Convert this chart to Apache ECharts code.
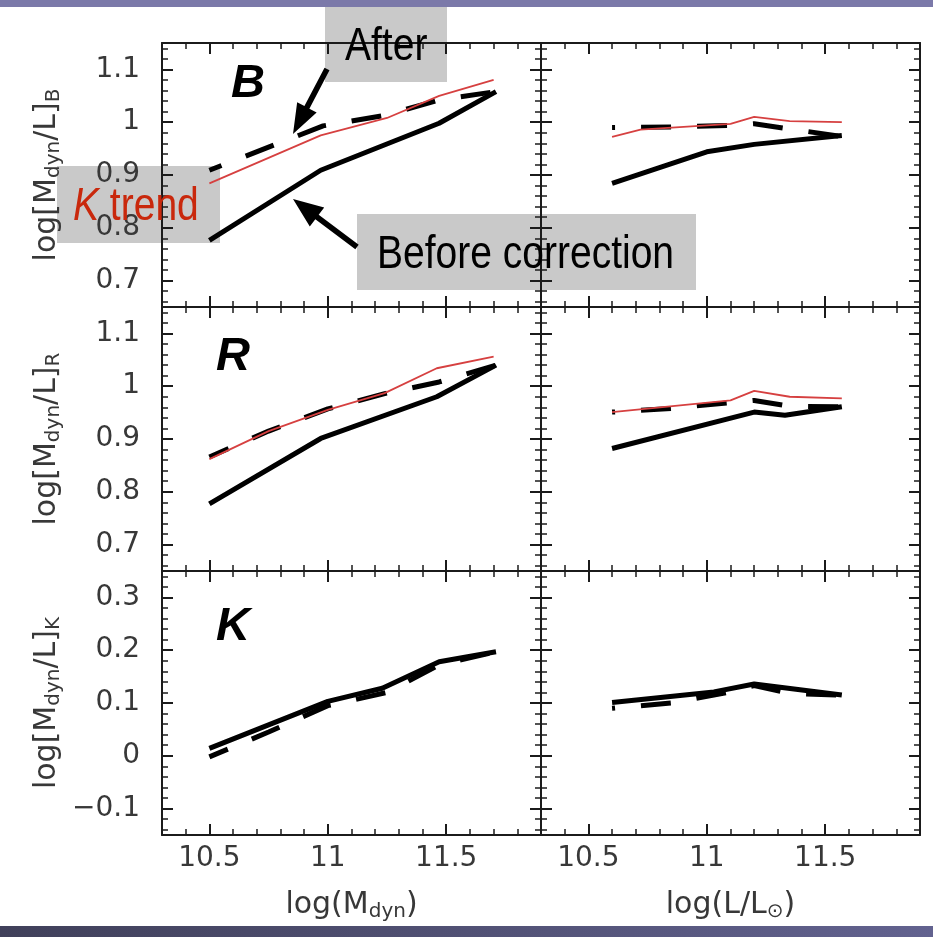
<!DOCTYPE html>
<html>
<head>
<meta charset="utf-8">
<script src="https://cdn.jsdelivr.net/npm/echarts@6/dist/echarts.min.js"></script>
<style>
  html, body { margin: 0; padding: 0; background: #ffffff; }
  #chart { width: 933px; height: 937px; }
</style>
</head>
<body>
<div id="chart"></div>
<script>
// Mean log(M_dyn/L) in bins of dynamical mass (left) and luminosity (right),
// for the B, R and K bands: before correction (solid), after (dashed), K trend (thin red).

const xRange = [10.3, 11.9];
const optRange = [0.65, 1.15];
const kRange = [-0.15, 0.35];

// B band
const bMassBefore = [[10.5, 0.776], [10.97, 0.909], [11.47, 0.998], [11.71, 1.058]];
const bMassAfter  = [[10.5, 0.909], [10.98, 0.993], [11.24, 1.013], [11.47, 1.042], [11.71, 1.058]];
const bMassTrend  = [[10.5, 0.884], [10.97, 0.975], [11.25, 1.008], [11.47, 1.05], [11.7, 1.08]];
const bLumBefore  = [[10.6, 0.884], [11.0, 0.944], [11.2, 0.958], [11.57, 0.975]];
const bLumAfter   = [[10.6, 0.99], [10.85, 0.991], [11.1, 0.994], [11.2, 0.997], [11.57, 0.973]];
const bLumTrend   = [[10.6, 0.972], [10.72, 0.986], [11.1, 0.997], [11.2, 1.01], [11.35, 1.002], [11.57, 1.0]];

// R band
const rMassBefore = [[10.5, 0.777], [10.97, 0.901], [11.46, 0.98], [11.71, 1.04]];
const rMassAfter  = [[10.5, 0.866], [10.75, 0.915], [11.0, 0.957], [11.24, 0.986], [11.47, 1.008], [11.71, 1.04]];
const rMassTrend  = [[10.5, 0.862], [10.75, 0.915], [11.0, 0.955], [11.24, 0.987], [11.46, 1.034], [11.7, 1.056]];
const rLumBefore  = [[10.6, 0.882], [11.2, 0.951], [11.33, 0.945], [11.57, 0.961]];
const rLumAfter   = [[10.6, 0.951], [10.85, 0.958], [11.1, 0.969], [11.2, 0.973], [11.35, 0.962], [11.57, 0.961]];
const rLumTrend   = [[10.6, 0.951], [11.1, 0.973], [11.2, 0.991], [11.35, 0.98], [11.57, 0.977]];

// K band
const kMassBefore = [[10.5, 0.014], [11.0, 0.103], [11.23, 0.128], [11.47, 0.178], [11.71, 0.197]];
const kMassAfter  = [[10.5, -0.002], [10.75, 0.045], [11.0, 0.095], [11.25, 0.12], [11.47, 0.172], [11.71, 0.197]];
const kLumBefore  = [[10.6, 0.101], [11.03, 0.121], [11.2, 0.136], [11.57, 0.115]];
const kLumAfter   = [[10.6, 0.09], [10.85, 0.1], [11.1, 0.121], [11.2, 0.133], [11.35, 0.118], [11.57, 0.115]];

const FONT = 'DejaVu Sans';
const SANS = "'Liberation Sans', Arial, sans-serif";
const INK = '#1b1b1b';
const LABEL = '#383838';

const GRID_W = 379, GRID_H = 264;
const grids = [
  { left: 162, top: 43 },  { left: 541, top: 43 },
  { left: 162, top: 307 }, { left: 541, top: 307 },
  { left: 162, top: 571 }, { left: 541, top: 571 }
];

const nameRich = {
  a: { fontFamily: FONT, fontSize: 30, lineHeight: 34, color: LABEL, verticalAlign: 'middle' },
  s: { fontFamily: FONT, fontSize: 20, lineHeight: 14, color: LABEL, verticalAlign: 'bottom' }
};

function tickText(v) {
  const r = Math.round(v * 100) / 100;
  return r < 0 ? '\u2212' + String(-r) : String(r);
}

function xAxisFor(gi, position, showLabels, name) {
  return {
    type: 'value', gridIndex: gi, position: position,
    min: xRange[0], max: xRange[1],
    splitNumber: 3, minInterval: 0.5, maxInterval: 0.5,
    axisLine: { show: true, onZero: false, lineStyle: { color: INK, width: 2 } },
    axisTick: { show: true, inside: true, length: 11, lineStyle: { color: INK, width: 2 } },
    minorTick: { show: true, splitNumber: 5, length: 6, lineStyle: { color: INK, width: 1.5 } },
    splitLine: { show: false }, minorSplitLine: { show: false },
    axisLabel: {
      show: showLabels, showMinLabel: false, showMaxLabel: false, margin: 10,
      fontFamily: FONT, fontSize: 28, color: LABEL, formatter: tickText
    },
    name: name || '', nameLocation: 'middle', nameGap: 53,
    nameTextStyle: { fontFamily: FONT, fontSize: 30, color: LABEL, rich: nameRich }
  };
}

function yAxisFor(gi, position, range, showLabels, name) {
  return {
    type: 'value', gridIndex: gi, position: position,
    min: range[0], max: range[1],
    splitNumber: 5, minInterval: 0.1, maxInterval: 0.1,
    axisLine: { show: true, onZero: false, lineStyle: { color: INK, width: 2 } },
    axisTick: { show: true, inside: true, length: 11, lineStyle: { color: INK, width: 2 } },
    minorTick: { show: true, splitNumber: 5, length: 6, lineStyle: { color: INK, width: 1.5 } },
    splitLine: { show: false }, minorSplitLine: { show: false },
    axisLabel: {
      show: showLabels, showMinLabel: false, showMaxLabel: false, margin: 22,
      fontFamily: FONT, fontSize: 28, color: LABEL, formatter: tickText
    },
    name: name || '', nameLocation: 'middle', nameRotate: 90, nameGap: 98,
    nameTextStyle: { fontFamily: FONT, fontSize: 30, color: LABEL, rich: nameRich }
  };
}

const panels = [
  { range: optRange, yName: '{a|log[M}{s|dyn}{a|/L]}{s|B}', before: bMassBefore, after: bMassAfter, trend: bMassTrend, offset: 17 },
  { range: optRange, before: bLumBefore, after: bLumAfter, trend: bLumTrend, offset: 27 },
  { range: optRange, yName: '{a|log[M}{s|dyn}{a|/L]}{s|R}', before: rMassBefore, after: rMassAfter, trend: rMassTrend, offset: 9 },
  { range: optRange, before: rLumBefore, after: rLumAfter, trend: rLumTrend, offset: 27 },
  { range: kRange, yName: '{a|log[M}{s|dyn}{a|/L]}{s|K}', before: kMassBefore, after: kMassAfter, offset: 10,
    xName: '{a|log(M}{s|dyn}{a|)}' },
  { range: kRange, before: kLumBefore, after: kLumAfter, offset: 27,
    xName: '{a|log(L/L}{s|\u2299}{a|)}' }
];

const xAxes = [], yAxes = [], series = [];
panels.forEach((p, gi) => {
  const bottomRow = gi >= 4;
  const leftCol = gi % 2 === 0;
  xAxes.push(xAxisFor(gi, 'bottom', bottomRow, p.xName));
  xAxes.push(xAxisFor(gi, 'top', false));
  yAxes.push(yAxisFor(gi, 'left', p.range, leftCol, p.yName));
  yAxes.push(yAxisFor(gi, 'right', p.range, false));
  const ax = { xAxisIndex: 2 * gi, yAxisIndex: 2 * gi };
  series.push(Object.assign({
    name: 'Before correction', type: 'line', data: p.before, symbol: 'none', z: 3,
    lineStyle: { color: '#000000', width: 5 }
  }, ax));
  series.push(Object.assign({
    name: 'After', type: 'line', data: p.after, symbol: 'none', z: 4,
    lineStyle: { color: '#000000', width: 5, type: [30, 26], dashOffset: p.offset }
  }, ax));
  if (p.trend) {
    series.push(Object.assign({
      name: 'K trend', type: 'line', data: p.trend, symbol: 'none', z: 5,
      lineStyle: { color: '#d64040', width: 1.8 }
    }, ax));
  }
});

// Filled arrow outline from tail to tip
function arrow(tail, tip, headLen, headHalf, shaftHalf) {
  const dx = tip[0] - tail[0], dy = tip[1] - tail[1];
  const len = Math.hypot(dx, dy);
  const ux = dx / len, uy = dy / len, nx = -uy, ny = ux;
  const bx = tip[0] - ux * headLen, by = tip[1] - uy * headLen;
  return [
    [tail[0] + nx * shaftHalf, tail[1] + ny * shaftHalf],
    [bx + nx * shaftHalf, by + ny * shaftHalf],
    [bx + nx * headHalf, by + ny * headHalf],
    [tip[0], tip[1]],
    [bx - nx * headHalf, by - ny * headHalf],
    [bx - nx * shaftHalf, by - ny * shaftHalf],
    [tail[0] - nx * shaftHalf, tail[1] - ny * shaftHalf]
  ];
}

// Text placed at (x, y), optionally squeezed horizontally into a condensed look
function label(text, x, y, font, fill, squeeze, rich) {
  return {
    type: 'text', z: 50, x: x, y: y, scaleX: squeeze || 1, scaleY: 1,
    style: {
      text: text, x: 0, y: 0, font: font, fill: fill, rich: rich,
      align: 'left', textAlign: 'left', verticalAlign: 'middle', textVerticalAlign: 'middle'
    }
  };
}

const BOX = '#c9c9c9';
const NARROW_SCALE = 0.83;
const graphic = [
  { type: 'rect', z: -5, shape: { x: 0, y: 0, width: 933, height: 7 }, style: { fill: '#7b79a9' } },
  { type: 'rect', z: -5, shape: { x: 0, y: 926, width: 933, height: 11 },
    style: { fill: new echarts.graphic.LinearGradient(0, 0, 1, 0, [
      { offset: 0, color: '#40405a' }, { offset: 1, color: '#62628f' }]) } },
  { type: 'rect', z: -1, shape: { x: 325, y: 7, width: 122, height: 75 }, style: { fill: BOX } },
  { type: 'rect', z: -1, shape: { x: 357, y: 214, width: 339, height: 76 }, style: { fill: BOX } },
  { type: 'rect', z: -1, shape: { x: 57, y: 166, width: 163, height: 77 }, style: { fill: BOX } },
  label('After', 345, 47, '47px ' + SANS, '#000000', NARROW_SCALE),
  label('Before correction', 377, 255, '47px ' + SANS, '#000000', NARROW_SCALE),
  label('{i|K} trend', 73, 207, '47px ' + SANS, '#c9280c', NARROW_SCALE, {
    i: { fontStyle: 'italic', fontFamily: SANS, fontSize: 47, fill: '#c9280c', color: '#c9280c' }
  }),
  { type: 'polygon', z: 50, shape: { points: arrow([327, 69], [293, 134], 30, 11, 2.8) }, style: { fill: '#000000' } },
  { type: 'polygon', z: 50, shape: { points: arrow([357, 247], [293, 199], 30, 12, 2.8) }, style: { fill: '#000000' } },
  label('B', 231, 84, 'italic bold 47px ' + SANS, '#000000'),
  label('R', 216, 357, 'italic bold 47px ' + SANS, '#000000'),
  label('K', 216, 627, 'italic bold 47px ' + SANS, '#000000')
];

const chart = echarts.init(document.getElementById('chart'), null, { renderer: 'canvas' });
chart.setOption({
  backgroundColor: '#ffffff',
  animation: false,
  grid: grids.map(g => ({ left: g.left, top: g.top, width: GRID_W, height: GRID_H, outerBoundsMode: 'none' })),
  xAxis: xAxes,
  yAxis: yAxes,
  series: series,
  graphic: graphic
});
</script>
</body>
</html>
